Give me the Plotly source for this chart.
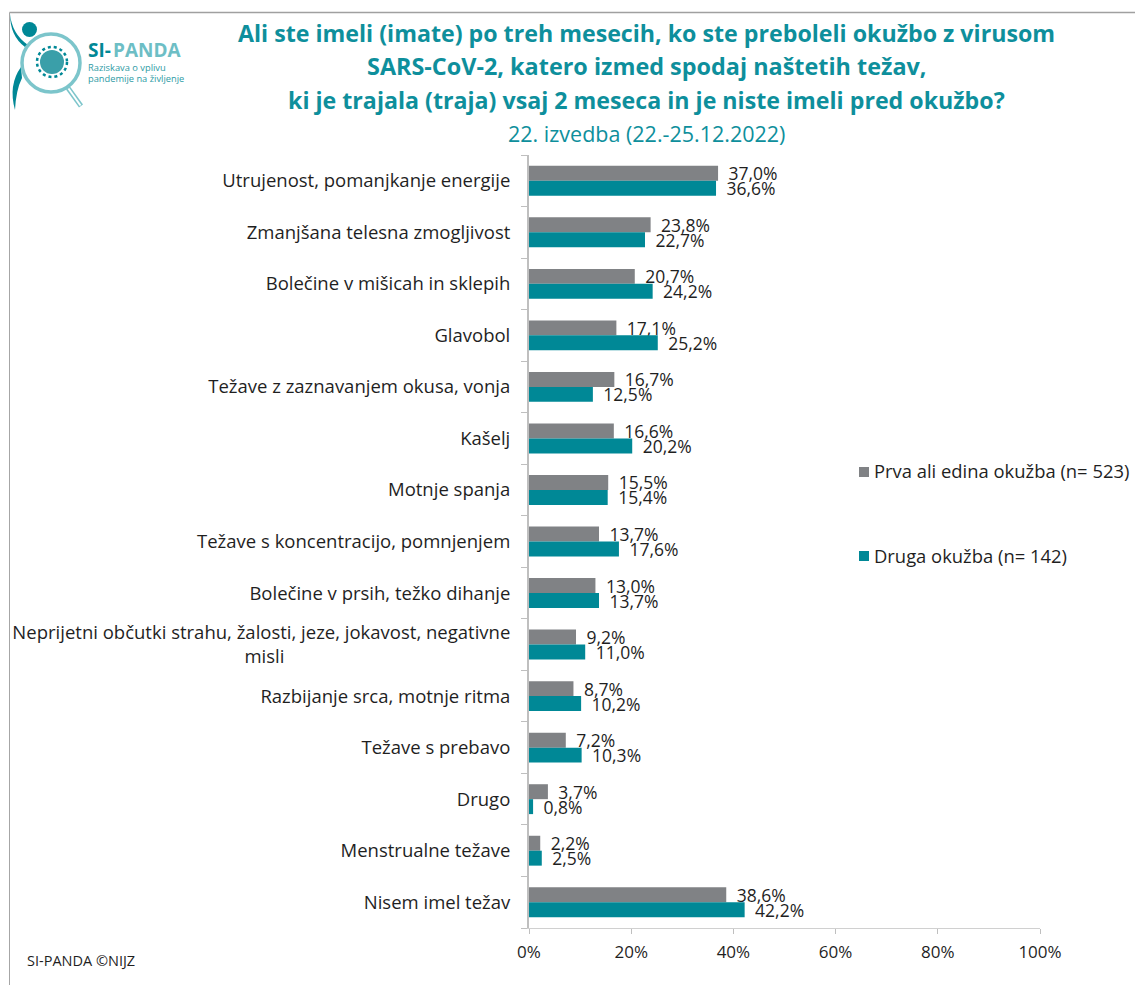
import plotly.graph_objects as go

categories = [
    "Utrujenost, pomanjkanje energije",
    "Zmanjšana telesna zmogljivost",
    "Bolečine v mišicah in sklepih",
    "Glavobol",
    "Težave z zaznavanjem okusa, vonja",
    "Kašelj",
    "Motnje spanja",
    "Težave s koncentracijo, pomnjenjem",
    "Bolečine v prsih, težko dihanje",
    "Neprijetni občutki strahu, žalosti, jeze, jokavost, negativne<br>misli",
    "Razbijanje srca, motnje ritma",
    "Težave s prebavo",
    "Drugo",
    "Menstrualne težave",
    "Nisem imel težav",
]
first_infection = [37.0, 23.8, 20.7, 17.1, 16.7, 16.6, 15.5, 13.7, 13.0, 9.2, 8.7, 7.2, 3.7, 2.2, 38.6]
second_infection = [36.6, 22.7, 24.2, 25.2, 12.5, 20.2, 15.4, 17.6, 13.7, 11.0, 10.2, 10.3, 0.8, 2.5, 42.2]
series_names = ["Prva ali edina okužba (n= 523)", "Druga okužba (n= 142)"]
x_ticks = [0, 20, 40, 60, 80, 100]
x_tick_labels = ["0%", "20%", "40%", "60%", "80%", "100%"]

GREY = "#808285"
TEAL = "#008896"
TITLE = "#0E8F9C"
RING = "#7CC5CB"
INK = "#1F1F1F"
FONT = "Open Sans"
W, H = 1135, 985


def px(x):
    return x / W


def py(y):
    return 1 - y / H


def pct(v):
    # a small gap holds the label clear of the bar end
    return "\u00a0\u2009" + f"{v:.1f}".replace(".", ",") + "%"


def note(text, x, y, size, color, anchor="left"):
    return dict(text=text, x=px(x), y=py(y), xref="paper", yref="paper", showarrow=False,
                xanchor=anchor, yanchor="middle", font=dict(family=FONT, size=size, color=color))


def page_shape(kind, x0, y0, x1, y1, **style):
    return dict(type=kind, xref="paper", yref="paper", x0=px(x0), x1=px(x1), y0=py(y0), y1=py(y1), **style)


def page_path(path_points, color):
    # Path commands given in page pixels: (command, x, y, ...) tuples
    parts = []
    for cmd, *xy in path_points:
        coords = [f"{px(v) if i % 2 == 0 else py(v)}" for i, v in enumerate(xy)]
        parts.append(" ".join([cmd] + coords))
    return dict(type="path", xref="paper", yref="paper", path=" ".join(parts) + " Z",
                line=dict(width=0), fillcolor=color)


# The long wrapped label has its second line centred under the first
tick_text = [c.replace("<br>misli", "<br>misli" + "\u00a0" * 47) for c in categories]

fig = go.Figure()
for name, vals, col in [(series_names[0], first_infection, GREY), (series_names[1], second_infection, TEAL)]:
    fig.add_bar(
        y=categories, x=vals, name=name, orientation="h",
        marker=dict(color=col, line=dict(width=0)),
        text=[pct(v) for v in vals], textposition="outside", cliponaxis=False,
        constraintext="none", textfont=dict(family=FONT, size=17.5, color=INK),
    )

shapes = [
    # frame along the left and top edges
    page_shape("line", 9.5, 985, 9.5, 12.5, line=dict(color="#A6A6A6", width=1)),
    page_shape("line", 9.5, 12.5, 1135, 12.5, line=dict(color="#A0A0A0", width=1.5)),
    # logo: raised arm, leg and head of the figure
    page_path([("M", 10, 14), ("Q", 12, 34, 28, 45), ("L", 25, 47), ("Q", 10, 36, 10, 14)], TEAL),
    page_path([("M", 21, 67), ("Q", 8, 85, 15, 110), ("Q", 16, 90, 22, 78)], TEAL),
    page_shape("circle", 22, 22, 37, 37, line=dict(width=0), fillcolor=TEAL),
    # logo: magnifier ring and handle
    page_shape("circle", 22, 34, 80, 92, line=dict(color=RING, width=3.5), fillcolor="white"),
    page_shape("line", 68, 88, 81, 106, line=dict(color=RING, width=5)),
    page_shape("line", 68.5, 88.5, 80.5, 105.5, line=dict(color="white", width=2)),
    # logo: virus body and halo
    page_shape("circle", 40, 50, 64, 74, line=dict(width=0), fillcolor="#3A9FA9"),
    page_shape("circle", 37, 47, 67, 77, line=dict(color=TEAL, width=2.5, dash="dot")),
    # legend swatches
    page_shape("rect", 859, 467, 869, 477, line=dict(width=0), fillcolor=GREY),
    page_shape("rect", 859, 551, 869, 561, line=dict(width=0), fillcolor=TEAL),
]

annotations = [
    note("<b>Ali ste imeli (imate) po treh mesecih, ko ste preboleli okužbo z virusom</b>", 647, 33, 23.2, TITLE, "center"),
    note("<b>SARS-CoV-2, katero izmed spodaj naštetih težav,</b>", 647, 66, 23.4, TITLE, "center"),
    note("<b>ki je trajala (traja) vsaj 2 meseca in je niste imeli pred okužbo?</b>", 647, 100, 23.2, TITLE, "center"),
    note("22. izvedba (22.-25.12.2022)", 647, 133.5, 21.5, TITLE, "center"),
    note("SI-PANDA ©NIJZ", 25, 960, 14.5, INK),
    note("<b>SI-</b>", 86, 50, 19, TEAL),
    note("<b>PANDA</b>", 111, 50, 19, "#6DBEC5"),
    note("Raziskava o vplivu", 86, 68, 9.3, "#2E9BA5"),
    note("pandemije na življenje", 86, 79, 9.3, "#2E9BA5"),
    note(series_names[0], 872, 471, 18.4, INK),
    note(series_names[1], 872, 555.5, 18.4, INK),
]

fig.update_layout(
    width=W, height=H, autosize=False,
    margin=dict(l=0, r=0, t=0, b=0, pad=0),
    paper_bgcolor="white", plot_bgcolor="white",
    barmode="group", bargap=0.42, bargroupgap=0,
    font=dict(family=FONT, size=18, color=INK),
    showlegend=False,
    shapes=shapes, annotations=annotations,
    xaxis=dict(domain=[px(529), px(1040)], range=[0, 100], tickvals=x_ticks, ticktext=x_tick_labels,
               automargin=False, showgrid=False, zeroline=False, showline=True, linecolor="#D0D0D0",
               linewidth=1, ticks="outside", ticklen=5, tickcolor="#BFBFBF", tickwidth=1,
               ticklabelstandoff=4, tickfont=dict(family=FONT, size=17, color=INK)),
    yaxis=dict(domain=[py(928), py(155)], autorange="reversed", tickmode="array", tickvals=categories,
               ticktext=tick_text, automargin=False, showgrid=False, zeroline=False, showline=True,
               linecolor="#BFBFBF", linewidth=2, ticks="outside", ticklen=6, tickcolor="#BFBFBF",
               tickwidth=1, tickson="boundaries", ticklabelstandoff=13,
               tickfont=dict(family=FONT, size=18.5, color=INK)),
)

fig.write_html("out.html")
